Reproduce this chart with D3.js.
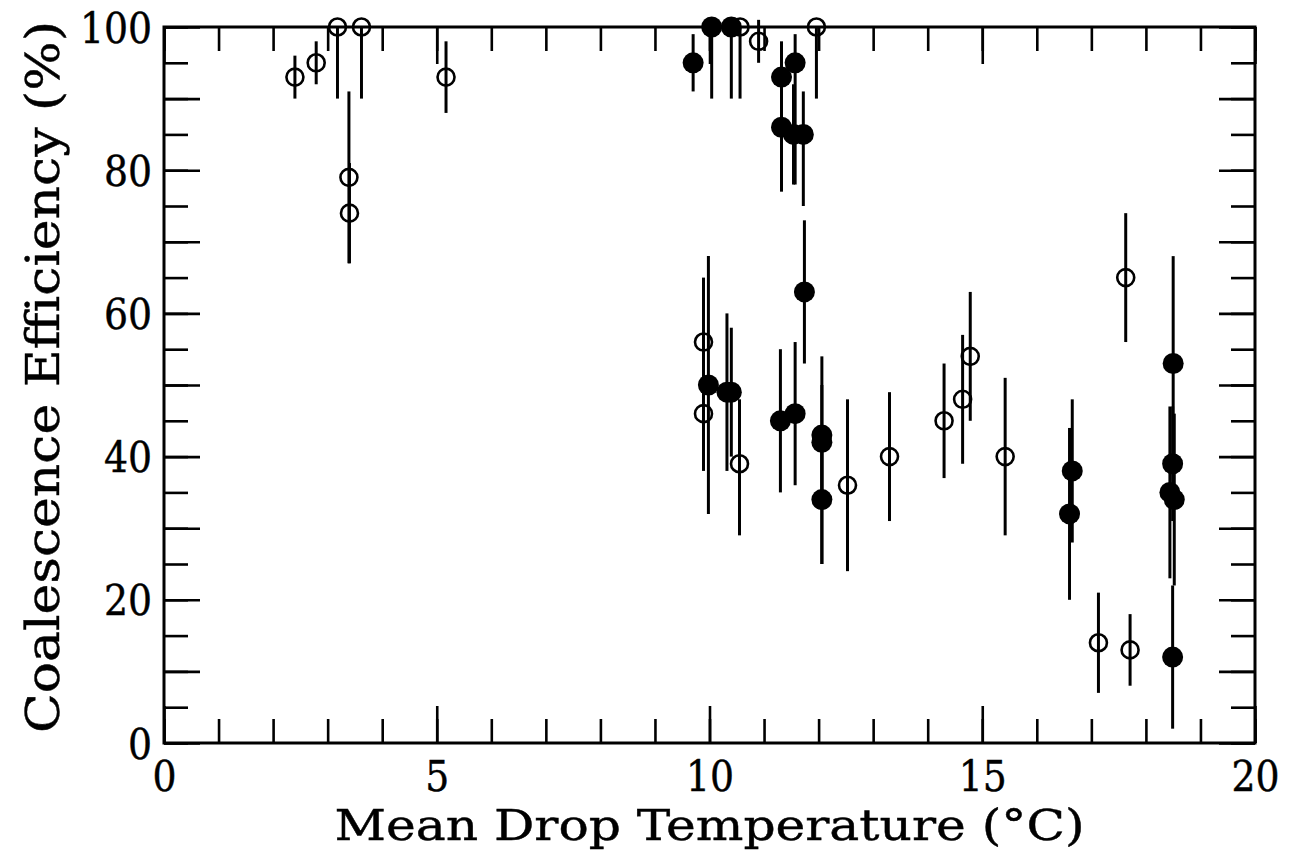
<!DOCTYPE html>
<html>
<head>
<meta charset="utf-8">
<script src="https://cdn.jsdelivr.net/npm/d3@7"></script>
<style>
  html, body { margin: 0; padding: 0; background: #fff; }
  svg text { font-family: "DejaVu Serif Condensed", "DejaVu Serif", serif; fill: #000; stroke: #000; stroke-width: 0.4; }
</style>
</head>
<body>
<div id="chart"></div>
<script>
// open circles: temperature, efficiency, error bar low / high
const openTemp = [2.40, 2.79, 3.18, 3.62, 3.39, 3.40, 5.17, 10.56, 10.90, 11.96,
                  9.89, 9.89, 10.55, 12.53, 13.30, 14.30, 14.64, 14.78, 15.42, 17.13, 17.63, 17.71];
const openEff  = [93, 95, 100, 100, 79, 74, 93, 100, 98, 100,
                  56, 46, 39, 36, 40, 45, 48, 54, 40, 14, 65, 13];
const openLow  = [90, 92, 90, 90, 67, 67, 88, 90, 95, 90,
                  47, 38, 29, 24, 31, 37, 39, 45, 29, 7, 56, 8];
const openHigh = [96, 98, 100, 100, 91, 81, 98, 100, 101, 100,
                  65, 54, 48, 48, 49, 53, 57, 63, 51, 21, 74, 18];

// filled circles
const fillTemp = [9.70, 10.04, 10.40, 11.32, 11.32, 11.57, 11.54, 11.72, 9.98, 10.32, 10.40,
                  11.30, 11.57, 11.74, 12.06, 12.06, 12.06, 16.65, 16.60, 18.50, 18.49, 18.44, 18.52, 18.49];
const fillEff  = [95, 100, 100, 93, 86, 95, 85, 85, 50, 49, 49,
                  45, 46, 63, 43, 42, 34, 38, 32, 53, 39, 35, 34, 12];
const fillLow  = [91, 90, 90, 88, 77, 78, 78, 75, 32, 38, 40,
                  35, 36, 53, 34, 25, 25, 28, 20, 38, 31, 23, 22, 2];
const fillHigh = [99, 100, 100, 98, 95, 99, 92, 91, 68, 60, 58,
                  55, 56, 73, 54, 50, 43, 48, 44, 68, 47, 47, 46, 22];

const xMinorTicks = d3.range(0, 21, 1);
const xMajorTicks = [0, 5, 10, 15, 20];
const yMinorTicks = d3.range(0, 101, 5);
const yMajorTicks = d3.range(0, 101, 10);
const yLabelTicks = [0, 20, 40, 60, 80, 100];

const xTitle = "Mean Drop Temperature (\u00B0C)";
const yTitle = "Coalescence Efficiency (%)";

const width = 1297, height = 865;
const margin = {left: 164, right: 42, top: 27, bottom: 122};

const svg = d3.select("#chart").append("svg")
    .attr("width", width)
    .attr("height", height);

const x = d3.scaleLinear().domain([0, 20]).range([margin.left, width - margin.right]);
const y = d3.scaleLinear().domain([0, 100]).range([height - margin.bottom, margin.top]);

const clean = g => { g.select(".domain").remove(); g.selectAll("line").attr("stroke", "#000").attr("stroke-width", 2.6); };

// ticks, all pointing inwards
const tickAxes = [
    [d3.axisBottom(x).tickValues(xMinorTicks).tickSize(-24), `translate(0,${y(0)})`],
    [d3.axisBottom(x).tickValues(xMajorTicks).tickSize(-37), `translate(0,${y(0)})`],
    [d3.axisTop(x).tickValues(xMinorTicks).tickSize(-24), `translate(0,${y(100)})`],
    [d3.axisTop(x).tickValues(xMajorTicks).tickSize(-37), `translate(0,${y(100)})`],
    [d3.axisLeft(y).tickValues(yMinorTicks).tickSize(-24), `translate(${x(0)},0)`],
    [d3.axisLeft(y).tickValues(yMajorTicks).tickSize(-36), `translate(${x(0)},0)`],
    [d3.axisRight(y).tickValues(yMinorTicks).tickSize(-24), `translate(${x(20)},0)`],
    [d3.axisRight(y).tickValues(yMajorTicks).tickSize(-36), `translate(${x(20)},0)`]
];
tickAxes.forEach(([ax, tr]) => {
    svg.append("g").attr("transform", tr)
        .call(ax.tickFormat(""))
        .call(clean);
});

// frame
svg.append("rect")
    .attr("x", x(0)).attr("y", y(100))
    .attr("width", x(20) - x(0)).attr("height", y(0) - y(100))
    .attr("fill", "none").attr("stroke", "#000").attr("stroke-width", 3);

// tick labels
svg.append("g").attr("transform", `translate(0,${y(0)})`)
    .call(d3.axisBottom(x).tickValues(xMajorTicks).tickSize(0).tickPadding(0))
    .call(g => g.select(".domain").remove())
    .selectAll("text")
    .attr("font-size", 42).attr("y", 48).attr("dy", 0);

svg.append("g").attr("transform", `translate(${x(0)},0)`)
    .call(d3.axisLeft(y).tickValues(yLabelTicks).tickSize(0).tickPadding(0))
    .call(g => g.select(".domain").remove())
    .selectAll("text")
    .attr("font-size", 42).attr("x", -12).attr("dy", 15);

// axis titles
svg.append("text")
    .attr("x", (x(0) + x(20)) / 2).attr("y", 840)
    .attr("text-anchor", "middle")
    .attr("font-size", 43)
    .attr("textLength", 750).attr("lengthAdjust", "spacingAndGlyphs")
    .text(xTitle);

svg.append("text")
    .attr("transform", `translate(59,${(y(0) + y(100)) / 2 - 8}) rotate(-90)`)
    .attr("text-anchor", "middle")
    .attr("font-size", 46)
    .attr("textLength", 712).attr("lengthAdjust", "spacingAndGlyphs")
    .text(yTitle);

// data
const openData = openTemp.map((t, i) => ({t, e: openEff[i], lo: openLow[i], hi: openHigh[i]}));
const fillData = fillTemp.map((t, i) => ({t, e: fillEff[i], lo: fillLow[i], hi: fillHigh[i]}));

const plot = svg.append("g");

plot.selectAll(".bar")
    .data(openData.concat(fillData))
    .join("line")
    .attr("class", "bar")
    .attr("x1", d => x(d.t)).attr("x2", d => x(d.t))
    .attr("y1", d => y(d.lo)).attr("y2", d => y(d.hi))
    .attr("stroke", "#000").attr("stroke-width", 3);

plot.selectAll(".open")
    .data(openData)
    .join("circle")
    .attr("class", "open")
    .attr("cx", d => x(d.t)).attr("cy", d => y(d.e))
    .attr("r", 8.5)
    .attr("fill", "none").attr("stroke", "#000").attr("stroke-width", 2.6);

plot.selectAll(".filled")
    .data(fillData)
    .join("circle")
    .attr("class", "filled")
    .attr("cx", d => x(d.t)).attr("cy", d => y(d.e))
    .attr("r", 10.5)
    .attr("fill", "#000");
</script>
</body>
</html>
